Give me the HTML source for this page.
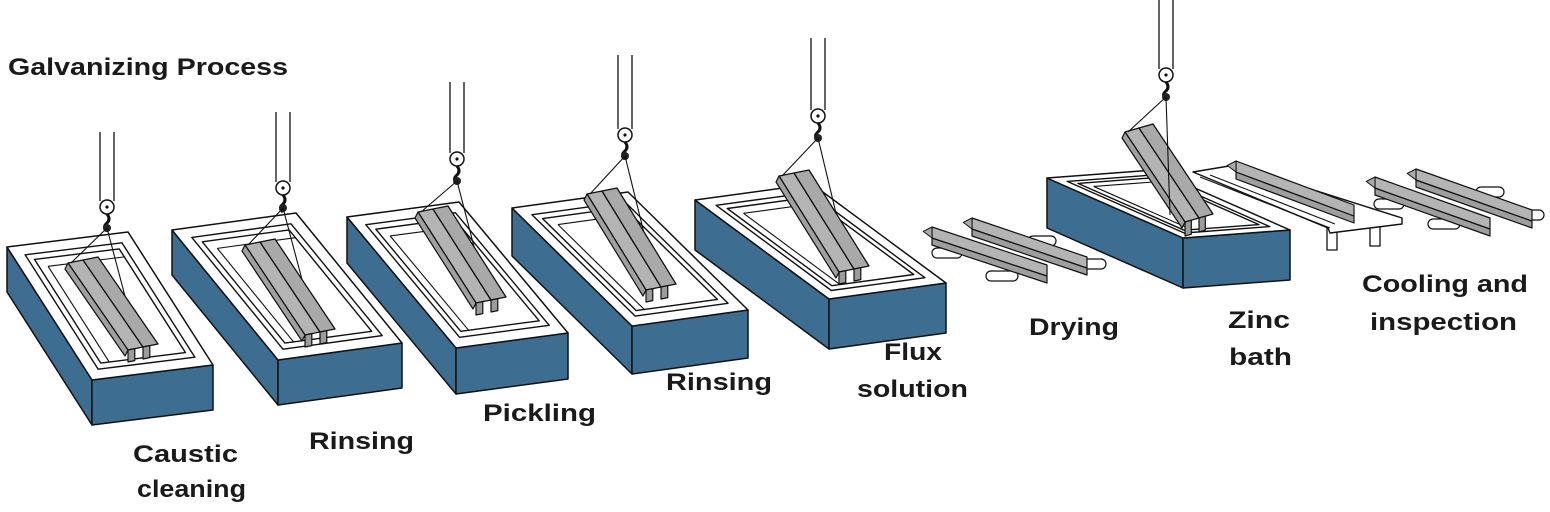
<!DOCTYPE html>
<html><head><meta charset="utf-8">
<style>
html,body{margin:0;padding:0;background:#fff;}
svg{display:block;}
text{font-family:"Liberation Sans",sans-serif;font-weight:bold;font-size:24px;fill:#1a1a1a;}
</style></head>
<body>
<svg id="s" width="1550" height="512" viewBox="0 0 1550 512" xmlns="http://www.w3.org/2000/svg">
<g id="g"></g>
<text x="8" y="75" textLength="280" lengthAdjust="spacingAndGlyphs">Galvanizing Process</text>
<text x="133" y="462" textLength="105" lengthAdjust="spacingAndGlyphs">Caustic</text>
<text x="137" y="497" textLength="109" lengthAdjust="spacingAndGlyphs">cleaning</text>
<text x="309" y="449" textLength="105" lengthAdjust="spacingAndGlyphs">Rinsing</text>
<text x="483" y="421" textLength="113" lengthAdjust="spacingAndGlyphs">Pickling</text>
<text x="666" y="390" textLength="106" lengthAdjust="spacingAndGlyphs">Rinsing</text>
<text x="884" y="360" textLength="58" lengthAdjust="spacingAndGlyphs">Flux</text>
<text x="857" y="397" textLength="111" lengthAdjust="spacingAndGlyphs">solution</text>
<text x="1029" y="335" textLength="90" lengthAdjust="spacingAndGlyphs">Drying</text>
<text x="1228" y="328" textLength="62" lengthAdjust="spacingAndGlyphs">Zinc</text>
<text x="1229" y="365" textLength="63" lengthAdjust="spacingAndGlyphs">bath</text>
<text x="1362" y="292" textLength="166" lengthAdjust="spacingAndGlyphs">Cooling and</text>
<text x="1370" y="330" textLength="147" lengthAdjust="spacingAndGlyphs">inspection</text>
</svg>
<script>
var g=document.getElementById('g');var out='';
function pts(a){return a.map(function(p){return p[0].toFixed(1)+','+p[1].toFixed(1)}).join(' ');}
function poly(a,fill,sw){out+='<polygon points="'+pts(a)+'" fill="'+fill+'" stroke="#111" stroke-width="'+(sw||1.5)+'" stroke-linejoin="round"/>';}
function line(a,b,sw){out+='<line x1="'+a[0]+'" y1="'+a[1]+'" x2="'+b[0]+'" y2="'+b[1]+'" stroke="#111" stroke-width="'+(sw||1.2)+'"/>';}
function add(a,b){return [a[0]+b[0],a[1]+b[1]];}
function sub(a,b){return [a[0]-b[0],a[1]-b[1]];}
function mul(a,k){return [a[0]*k,a[1]*k];}
var BLUE='#3d6d90';
function tank(BL,FL,FR,d){
  var BR=add(BL,sub(FR,FL));var D=[0,d];
  poly([BL,FL,add(FL,D),add(BL,D)],BLUE);
  poly([FL,FR,add(FR,D),add(FL,D)],BLUE);
  poly([BL,BR,FR,FL],'#fff');
  function q(u,v){var top=add(BL,mul(sub(BR,BL),u));return add(top,mul(sub(FL,BL),v));}
  function rect(a,b){return [q(a,b),q(1-a,b),q(1-a,1-b),q(a,1-b)];}
  poly(rect(0.1,0.07),'#fff',1.4);
  poly(rect(0.15,0.11),'#fff',1.4);
  line(q(0.22,0.17),q(0.85,0.17),1.1);
  line(q(0.22,0.17),q(0.22,0.89),1.1);
}
function beam(P,Q,W,L){
  var D=[0,L||12];
  var P2=add(P,W),P3=add(P2,W),Q2=add(Q,W),Q3=add(Q2,W);
  poly([P,P2,Q2,Q],'#b4b4b4',1.3);
  poly([P2,P3,Q3,Q2],'#a9a9a9',1.3);
  var h=mul(W,0.45);
  poly([Q,add(Q,h),add(add(Q,h),D),add(Q,D)],'#9c9c9c',1.2);
  poly([Q2,add(Q2,h),add(add(Q2,h),D),add(Q2,D)],'#9c9c9c',1.2);
  poly([P,add(P,[-3,6]),add(Q,[-3,6]),Q],'#a0a0a0',1.2);
}
function hook(x,top,cy,hy,P,R){
  line([x-7,top],[x-7,cy-6],1.3);line([x+7,top],[x+7,cy-6],1.3);
  out+='<circle cx="'+x+'" cy="'+cy+'" r="7" fill="#fff" stroke="#111" stroke-width="1.5"/><circle cx="'+x+'" cy="'+cy+'" r="1.6" fill="#111"/>';
  out+='<path d="M'+(x)+' '+(cy+7)+' q4 5 0 9 q-5 4 0 8" fill="none" stroke="#111" stroke-width="3"/>';
  out+='<circle cx="'+x+'" cy="'+hy+'" r="4" fill="#222"/>';
  line([x,hy],P,1.1);line([x,hy],R,1.1);
}
function hb(top,x,cy,hy,P,Q,W){var R=add(add(P,mul(W,2)),mul(sub(Q,P),0.45));hook(x,top,cy,hy,add(P,[3,0]),R);}
var tanks=[
 {BL:[7,247],FL:[92,380],FR:[213,365],d:45,P:[68,263],Q:[128,350],x:107,top:132,cy:207,hy:228},
 {BL:[172,230],FL:[278,360],FR:[402,343],d:45,P:[245,245],Q:[305,335],x:283,top:112,cy:188,hy:208},
 {BL:[347,217],FL:[456,348],FR:[568,333],d:46,P:[418,212],Q:[476,303],x:457,top:82,cy:159,hy:181},
 {BL:[512,208],FL:[632,326],FR:[748,310],d:48,P:[587,194],Q:[646,290],x:625,top:55,cy:135,hy:156},
 {BL:[695,200],FL:[829,299],FR:[946,283],d:50,P:[779,176],Q:[839,272],x:818,top:38,cy:116,hy:138}
];
tanks.forEach(function(t){tank(t.BL,t.FL,t.FR,t.d);var W=[15,-3];beam(t.P,t.Q,W);hb(t.top,t.x,t.cy,t.hy,t.P,t.Q,W);});
tank([1047,178],[1183,238],[1290,230],50);
poly([[1327,228],[1337,228],[1337,250],[1327,250]],'#fff',1.3);
poly([[1370,224],[1380,224],[1380,246],[1370,246]],'#fff',1.3);
poly([[1193,172],[1235,165],[1402,218],[1402,224],[1330,233],[1328,228]],'#fff',1.4);
line([1200,177],[1330,228],1.1);line([1210,175],[1335,224],1.1);
beam([1125,132],[1185,222],[14,-4],14);
hook(1166,0,75,97,[1128,132],[1170,215]);
function flatbeam(A,B,w){
  var n=[0,-w];
  poly([A,B,add(B,[0,7]),add(A,[0,7])],'#9e9e9e',1.2);
  poly([add(A,n),add(B,n),B,A],'#b4b4b4',1.2);
  poly([add(A,[-w*0.8,-w*0.6]),add(A,n),A,add(A,[-w*0.8,w*0.4-w])],'#aaa',1.0);
}
function roller(x,y,w){out+='<rect x="'+x+'" y="'+y+'" width="'+w+'" height="10" rx="5" fill="#fff" stroke="#111" stroke-width="1.2"/>';}
flatbeam([1236,172],[1354,216],11);
roller(932,248,30);roller(1028,236,28);roller(986,271,32);roller(1080,259,26);
flatbeam([932,238],[1047,276],11);
flatbeam([972,229],[1087,268],11);
roller(1374,199,30);roller(1476,187,28);roller(1428,219,32);roller(1518,210,26);
flatbeam([1375,188],[1490,229],11);
flatbeam([1416,180],[1532,221],11);
g.innerHTML=out;
</script>
</body></html>
